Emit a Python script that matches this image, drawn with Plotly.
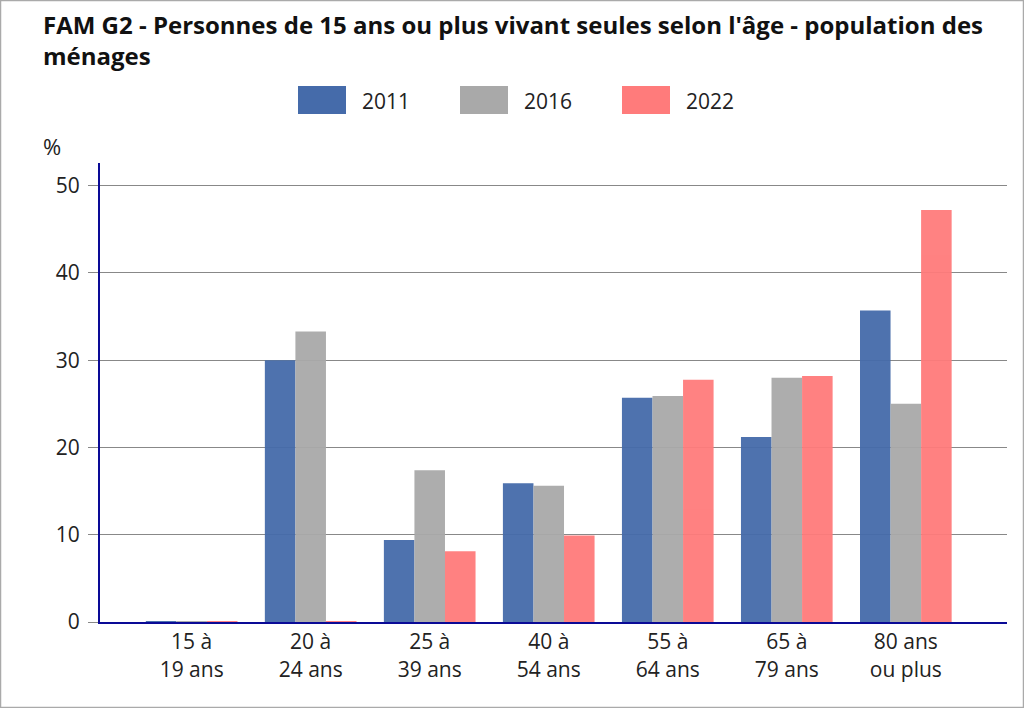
import plotly.graph_objects as go

categories = ["15 à<br>19 ans", "20 à<br>24 ans", "25 à<br>39 ans", "40 à<br>54 ans",
              "55 à<br>64 ans", "65 à<br>79 ans", "80 ans<br>ou plus"]
years = ["2011", "2016", "2022"]
v2011 = [0.1, 30.0, 9.4, 15.9, 25.7, 21.2, 35.7]
v2016 = [0.1, 33.3, 17.4, 15.6, 25.9, 28.0, 25.0]
v2022 = [0.1, 0.1, 8.1, 9.9, 27.75, 28.2, 47.2]
colors = ["#456BAA", "#A9A9A9", "#FF7B7B"]
title_text = "<b>FAM G2 - Personnes de 15 ans ou plus vivant seules selon l'âge - population des<br>ménages</b>"

FONT = "Open Sans"
W, H = 1024, 708
ML, MR, MT, MB = 100, 17, 163, 86
pw = W - ML - MR
ph = H - MT - MB

def px_x(x):
    return (x - ML) / pw

def px_y(y):
    return (H - MB - y) / ph

fig = go.Figure()
for name, vals, col in zip(years, [v2011, v2016, v2022], colors):
    fig.add_trace(go.Bar(x=categories, y=vals, name=name, marker=dict(color=col, line=dict(width=0)),
                         opacity=0.95, showlegend=False))

shapes = [dict(type="rect", xref="paper", yref="paper",
               x0=px_x(0.5), x1=px_x(W - 0.5), y0=px_y(H - 0.5), y1=px_y(0.5),
               line=dict(color="#AAAAAA", width=1.5), fillcolor="rgba(0,0,0,0)", layer="below")]
annotations = [
    dict(text=title_text, xref="paper", yref="paper", x=px_x(41), y=px_y(6),
         xanchor="left", yanchor="top", align="left", showarrow=False,
         font=dict(family=FONT, size=24, color="#111")),
    dict(text="%", xref="paper", yref="paper", x=px_x(52), y=px_y(146),
         xanchor="center", yanchor="middle", showarrow=False,
         font=dict(size=22, color="#222")),
]
leg_x0 = 298
leg_step = 162
for i, (name, col) in enumerate(zip(years, colors)):
    sx = leg_x0 + i * leg_step
    shapes.append(dict(type="rect", xref="paper", yref="paper",
                       x0=px_x(sx), x1=px_x(sx + 48), y0=px_y(114), y1=px_y(86),
                       line=dict(width=0), fillcolor=col))
    annotations.append(dict(text=name, xref="paper", yref="paper", x=px_x(sx + 62), y=px_y(101),
                            xanchor="left", yanchor="middle", showarrow=False,
                            font=dict(size=21, color="#222")))

fig.update_layout(
    width=W, height=H,
    margin=dict(l=ML, r=MR, t=MT, b=MB),
    paper_bgcolor="white", plot_bgcolor="white",
    font=dict(family=FONT, size=21, color="#222"),
    barmode="group", bargap=0.23, bargroupgap=0,
    showlegend=False,
    xaxis=dict(range=[-0.77, 6.85], showline=True, linecolor="#0A0A96", linewidth=2,
               ticks="", tickfont=dict(size=21), showgrid=False),
    yaxis=dict(range=[0, 52.6], tickvals=[0, 10, 20, 30, 40, 50], showline=True,
               linecolor="#0A0A96", linewidth=2, ticks="outside", ticklen=10, tickcolor="#888",
               showgrid=True, gridcolor="#888", gridwidth=1, zeroline=False,
               tickfont=dict(size=21), ticklabelstandoff=4),
    shapes=shapes,
    annotations=annotations,
)

fig.write_html("out.html", config={"displayModeBar": False},
               post_script="document.body.style.margin='0';document.body.style.overflow='hidden';")
